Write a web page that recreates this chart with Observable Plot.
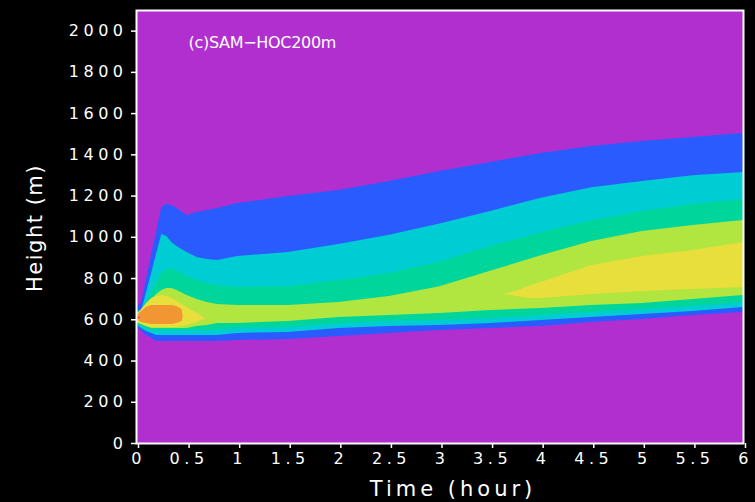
<!DOCTYPE html>
<html><head><meta charset="utf-8">
<script src="https://cdn.jsdelivr.net/npm/d3@7"></script>
<script src="https://cdn.jsdelivr.net/npm/@observablehq/plot@0.6"></script>
<style>
html,body{margin:0;padding:0;background:#000;}
#chart{width:755px;height:502px;overflow:hidden;}
g[aria-label="y-axis tick label"] text{letter-spacing:4.5px;}
g[aria-label="x-axis tick label"] text{letter-spacing:4.5px;}
g.xlbl text{letter-spacing:4px;}
g.ylbl text{letter-spacing:1.5px;}
g.ttl text{letter-spacing:-0.3px;}
</style></head><body><div id="chart"></div>
<script>
// time axis of the band outlines (hours)
const time = [0, 0.05, 0.1, 0.15, 0.2, 0.25, 0.3, 0.35, 0.4, 0.5, 0.6, 0.7, 0.8, 1, 1.5, 2, 2.5, 3, 3.5, 4, 4.5, 5, 5.5, 6];
// outer (blue) level: top and bottom heights (m)
const blueTop = [655, 684, 800, 917, 1028, 1145, 1159, 1154, 1140, 1106, 1120, 1130, 1140, 1164, 1198, 1227, 1271, 1319, 1363, 1407, 1440, 1465, 1484, 1504];
const blueBot = [572, 543, 524, 509, 495, 495, 495, 495, 495, 495, 495, 495, 495, 500, 504, 519, 534, 548, 558, 567, 587, 601, 621, 635];
// cyan level
const cyanTop = [645, 640, 732, 825, 922, 1014, 1004, 975, 955, 926, 902, 892, 888, 907, 926, 965, 1010, 1065, 1125, 1190, 1240, 1271, 1298, 1314];
const cyanBot = [577, 558, 543, 534, 524, 524, 524, 524, 524, 524, 524, 524, 524, 534, 538, 558, 567, 572, 582, 597, 611, 626, 640, 660];
// green level
const greenTop = [635, 645, 679, 732, 781, 825, 844, 849, 834, 810, 791, 776, 766, 757, 761, 791, 825, 880, 955, 1022, 1080, 1125, 1159, 1183];
const greenBot = [582, 567, 558, 548, 548, 548, 548, 548, 548, 548, 548, 548, 548, 558, 563, 582, 592, 597, 606, 621, 635, 650, 664, 684];
// yellow-green level
const ygTop = [631, 635, 664, 698, 723, 742, 752, 752, 742, 718, 698, 684, 674, 669, 669, 684, 713, 760, 835, 910, 980, 1028, 1057, 1082];
const ygBot = [587, 577, 567, 558, 558, 558, 558, 558, 558, 558, 567, 572, 582, 582, 592, 611, 621, 631, 645, 655, 669, 679, 698, 718];
// yellow level, early patch
const yelEarlyTime = [0, 0.05, 0.1, 0.15, 0.2, 0.25, 0.3, 0.35, 0.4, 0.5, 0.6, 0.65, 0.69];
const yelEarlyTop = [621, 650, 679, 703, 713, 718, 713, 703, 689, 660, 631, 616, 604];
const yelEarlyBot = [592, 577, 567, 563, 563, 563, 563, 563, 563, 572, 587, 597, 604];
// yellow level, late patch
const yelLateTime = [3.63, 3.75, 3.9, 4, 4.5, 5, 5.5, 6];
const yelLateTop = [725, 737, 766, 781, 863, 907, 936, 975];
const yelLateBot = [725, 713, 703, 703, 723, 737, 747, 757];
// orange level
const orangeTime = [0, 0.02, 0.05, 0.1, 0.15, 0.2, 0.25, 0.3, 0.35, 0.4, 0.45, 0.46];
const orangeTop = [616, 626, 640, 660, 669, 669, 669, 669, 669, 664, 650, 621];
const orangeBot = [601, 597, 587, 582, 577, 577, 577, 577, 577, 582, 592, 611];
// red level
const redTime = [0, 0.03, 0.045];
const redTop = [614, 612, 609];
const redBot = [604, 606, 609];

const xTicks = [0, 0.5, 1, 1.5, 2, 2.5, 3, 3.5, 4, 4.5, 5, 5.5, 6];
const xTickLabels = ["0", "0.5", "1", "1.5", "2", "2.5", "3", "3.5", "4", "4.5", "5", "5.5", "6"];
const yTicks = [0, 200, 400, 600, 800, 1000, 1200, 1400, 1600, 1800, 2000];
const yTickLabels = ["0", "200", "400", "600", "800", "1000", "1200", "1400", "1600", "1800", "2000"];
const title = "(c)SAM\u2212HOC200m";
const xLabel = "Time (hour)";
const yLabel = "Height (m)";

const bg = "#b12fcf";
const bands = [
  {t: time, hi: blueTop, lo: blueBot, color: "#2a5bff"},
  {t: time, hi: cyanTop, lo: cyanBot, color: "#00ccd3"},
  {t: time, hi: greenTop, lo: greenBot, color: "#00d69c"},
  {t: time, hi: ygTop, lo: ygBot, color: "#b0e63f"},
  {t: yelEarlyTime, hi: yelEarlyTop, lo: yelEarlyBot, color: "#e8de3c"},
  {t: yelLateTime, hi: yelLateTop, lo: yelLateBot, color: "#e8de3c"},
  {t: orangeTime, hi: orangeTop, lo: orangeBot, color: "#f29533"},
  {t: redTime, hi: redTop, lo: redBot, color: "#f0306a"}
];

const chart = Plot.plot({
  width: 755, height: 502,
  marginLeft: 136, marginRight: 12, marginTop: 10, marginBottom: 59,
  style: {background: "#000", color: "#fff", fontFamily: "DejaVu Sans"},
  x: {domain: [0, 6]},
  y: {domain: [0, 2100]},
  marks: [
    Plot.frame({fill: bg}),
    ...bands.map(b => Plot.areaY(b.t.map((t, i) => ({t, lo: b.lo[i], hi: b.hi[i]})),
      {x: "t", y1: "lo", y2: "hi", fill: b.color, curve: "linear"})),
    Plot.frame({stroke: "#fff", strokeWidth: 2}),
    Plot.axisY({ticks: yTicks, tickFormat: (d, i) => yTickLabels[i], tickSize: 5, tickPadding: 4, fontSize: 16, label: null, strokeWidth: 1.5}),
    Plot.axisX({ticks: xTicks, tickFormat: (d, i) => xTickLabels[i], tickSize: 5, tickPadding: 4, fontSize: 16, label: null, strokeWidth: 1.5, dx: 2}),
    Plot.text([yLabel], {text: d => d, frameAnchor: "left", dx: -101, dy: 1, rotate: -90, textAnchor: "middle", lineAnchor: "middle", fontSize: 21, className: "ylbl"}),
    Plot.text([xLabel], {text: d => d, frameAnchor: "bottom", dx: 13, dy: 46, textAnchor: "middle", lineAnchor: "middle", fontSize: 21, className: "xlbl"}),
    Plot.text([title], {text: d => d, frameAnchor: "top-left", dx: 52, dy: 32, textAnchor: "start", lineAnchor: "middle", fontSize: 16, className: "ttl"})
  ]
});
document.getElementById("chart").appendChild(chart);
</script></body></html>
